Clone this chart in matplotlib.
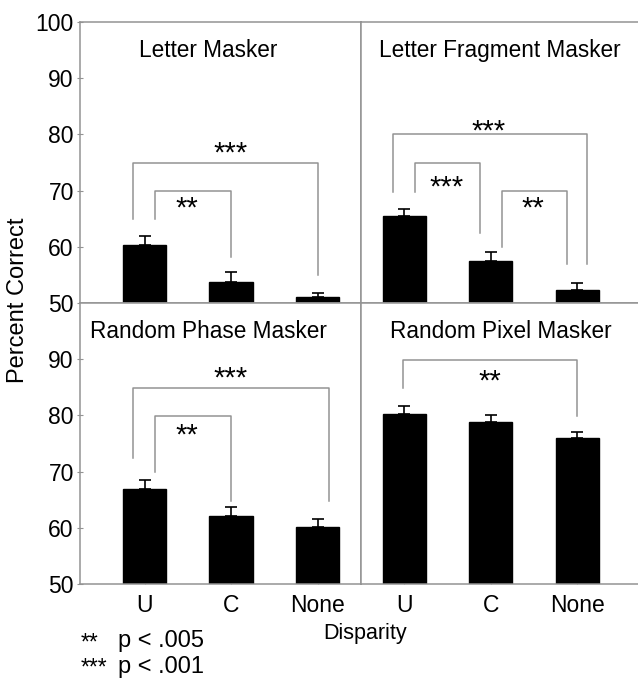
import matplotlib
matplotlib.use("Agg")
import matplotlib.pyplot as plt

plt.rcParams['font.family'] = ['Liberation Sans', 'DejaVu Sans']

disparity = ['U', 'C', 'None']
titles = ['Letter Masker', 'Letter Fragment Masker', 'Random Phase Masker', 'Random Pixel Masker']

# mean percent correct and upper error for each masker
letter_mean = [60.4, 53.7, 51.1]
letter_err = [1.6, 1.8, 0.6]
fragment_mean = [65.5, 57.4, 52.4]
fragment_err = [1.2, 1.6, 1.1]
phase_mean = [66.9, 62.1, 60.2]
phase_err = [1.6, 1.6, 1.4]
pixel_mean = [80.2, 78.9, 75.9]
pixel_err = [1.5, 1.2, 1.2]

# brackets: (x left, x right, y top, y bottom left, y bottom right, label, label x, label y)
letter_sig = [(0.87, 3.0, 75.0, 64.9, 54.9, '***', 1.99, 77.6),
              (1.12, 2.0, 69.9, 64.9, 58.1, '**', 1.49, 67.8)]
fragment_sig = [(0.874, 3.12, 80.0, 69.8, 56.9, '***', 1.98, 81.4),
                (1.12, 1.876, 75.0, 69.8, 62.4, '***', 1.49, 71.6),
                (2.13, 2.88, 69.9, 59.9, 56.9, '**', 2.49, 67.8)]
phase_sig = [(0.87, 3.13, 84.9, 72.4, 64.8, '***', 1.99, 87.5),
             (1.12, 2.0, 79.9, 69.9, 64.8, '**', 1.49, 77.4)]
pixel_sig = [(0.99, 3.0, 89.9, 84.9, 79.9, '**', 1.99, 87.0)]

means = [letter_mean, fragment_mean, phase_mean, pixel_mean]
errs = [letter_err, fragment_err, phase_err, pixel_err]
sigs = [letter_sig, fragment_sig, phase_sig, pixel_sig]
title_x = [1.73, 2.11, 1.74, 2.12]

gray = '#939393'
fig = plt.figure(figsize=(6.38, 6.8), dpi=100)
boxes = [[0.1254, 0.5544, 0.4404, 0.4132], [0.5658, 0.5544, 0.4404, 0.4132],
         [0.1254, 0.1412, 0.4404, 0.4132], [0.5658, 0.1412, 0.4404, 0.4132]]

for i in range(4):
    ax = fig.add_axes(boxes[i])
    x = [1, 2, 3]
    ax.bar(x, means[i], width=0.5, color='black', edgecolor='black', zorder=2)
    ax.errorbar(x, means[i], yerr=[[0, 0, 0], errs[i]], fmt='none', ecolor='black',
                elinewidth=1.2, capsize=4.5, capthick=1.2, zorder=3)
    for xl, xr, yt, ybl, ybr, lab, lx, ly in sigs[i]:
        ax.plot([xl, xl, xr, xr], [ybl, yt, yt, ybr], color=gray, lw=1.1, zorder=1)
        ax.annotate(lab, (lx, ly), xytext=(0, -9.7), textcoords='offset points',
                    ha='center', va='baseline', fontsize=21)
    ax.text(title_x[i], 94.9, titles[i], ha='center', va='center', fontsize=16.3)
    ax.set_ylim(50, 100)
    if i % 2 == 0:
        ax.set_xlim(0.254, 3.5)
    else:
        ax.set_xlim(0.5, 3.75)
    for s in ax.spines.values():
        s.set_color(gray)
        s.set_linewidth(1.1)
    ax.tick_params(colors=gray, labelcolor='black', labelsize=16.5, width=0.8)
    ax.set_xticks(x)
    if i >= 2:
        ax.set_xticklabels(disparity)
        ax.tick_params(axis='x', direction='in', length=3, pad=7)
    else:
        ax.tick_params(axis='x', length=0, labelbottom=False)
    if i == 0:
        ax.set_yticks([50, 60, 70, 80, 90, 100])
        ax.tick_params(axis='y', direction='inout', length=5, pad=2)
    elif i == 2:
        ax.set_yticks([50, 60, 70, 80, 90])
        ax.tick_params(axis='y', direction='inout', length=5, pad=2)
    else:
        ax.set_yticks([])

fig.text(0.028, 0.559, 'Percent Correct', rotation=90, ha='center', va='center', fontsize=17)
fig.text(0.572, 0.069, 'Disparity', ha='center', va='center', fontsize=15.5)
fig.text(0.127, 0.045, '**', ha='left', va='baseline', fontsize=16.5)
fig.text(0.185, 0.057, 'p < .005', ha='left', va='center', fontsize=17)
fig.text(0.127, 0.0074, '***', ha='left', va='baseline', fontsize=16.5)
fig.text(0.185, 0.019, 'p < .001', ha='left', va='center', fontsize=17)

fig.savefig('out.png', dpi=100)
